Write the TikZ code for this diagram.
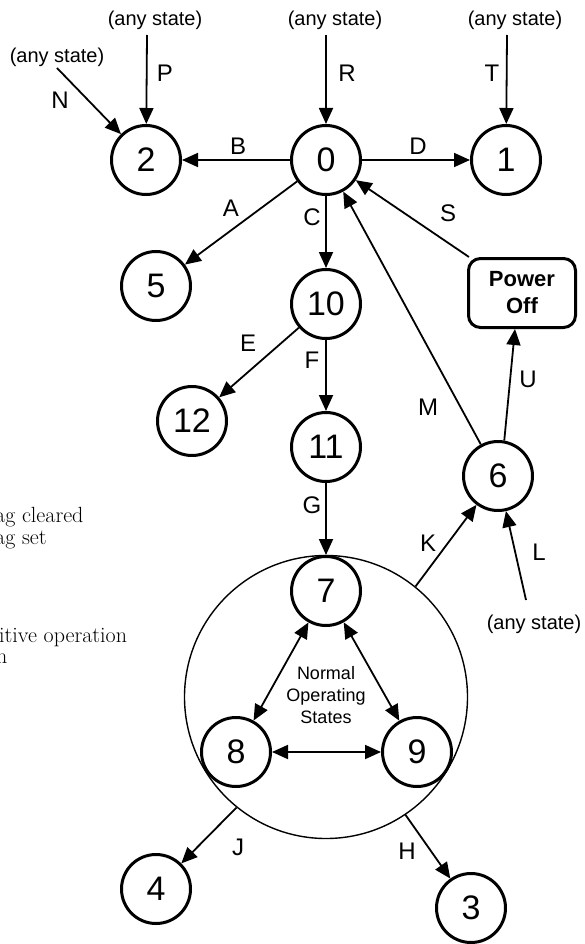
\documentclass[tikz,border=0pt]{standalone}
\usepackage{fontspec}
\newfontfamily\sansf{Liberation Sans}
\usetikzlibrary{arrows.meta,calc}
\begin{document}
\begin{tikzpicture}[x=1pt,y=-1pt,
  st/.style={circle,draw,line width=3pt,minimum size=69pt,inner sep=0pt,font=\sansf\fontsize{34}{34}\selectfont},
  tip/.tip={Triangle[length=16pt,width=14pt]},
  arr/.style={line width=1.8pt,-tip},
  darr/.style={line width=1.8pt,tip-tip},
  lbl/.style={font=\sansf\fontsize{24}{24}\selectfont,inner sep=0pt},
  any/.style={font=\sansf\fontsize{20}{20}\selectfont,inner sep=0pt},
  frag/.style={font=\fontsize{22}{22}\selectfont,inner sep=0pt,anchor=base west}]
\clip (0,0) rectangle (584,944);
\fill[white] (0,0) rectangle (584,944);

% group circle
\node[circle,draw,line width=1.4pt,minimum size=283pt,inner sep=0pt] (big) at (326,697) {};
\node[font=\sansf\fontsize{18}{22}\selectfont,align=center] (normal) at (326,695) {Normal\\Operating\\States};

% states
\node[st] (n0) at (326,160) {0};
\node[st] (n1) at (506,160) {1};
\node[st] (n2) at (146,160) {2};
\node[st] (n5) at (156,286) {5};
\node[st] (n10) at (326,304) {10};
\node[st] (n12) at (192,421) {12};
\node[st] (n11) at (326,447) {11};
\node[st] (n6) at (498,476) {6};
\node[st] (n7) at (326,591) {7};
\node[st] (n8) at (236,752) {8};
\node[st] (n9) at (417,752) {9};
\node[st] (n4) at (156,889) {4};
\node[st] (n3) at (471,908) {3};
\node[draw,line width=3pt,rounded corners=12pt,minimum width=107pt,minimum height=69pt,inner sep=0pt,
      align=center,font=\sansf\bfseries\fontsize{22}{27}\selectfont] (po) at (522,293) {Power\\Off};

% any-state sources
\node[any] (aP) at (155,20) {(any state)};
\node[any] (aR) at (335,20) {(any state)};
\node[any] (aT) at (515,20) {(any state)};
\node[any] (aN) at (57,57) {(any state)};
\node[any] (aL) at (534,624) {(any state)};
\coordinate (cP) at (147,35);
\coordinate (cR) at (326,35);
\coordinate (cT) at (507,35);
\coordinate (cN) at (57,68);
\coordinate (cL) at (526,600);

% connectors
\draw[arr] (cP) -- (n2);
\draw[arr] (cR) -- (n0);
\draw[arr] (cT) -- (n1);
\draw[arr] (cN) -- (n2);
\draw[arr] (n0) -- (n2);
\draw[arr] (n0) -- (n1);
\draw[arr] (n0) -- (n5);
\draw[arr] (n0) -- (n10);
\draw[arr] (po) -- (n0);
\draw[arr] (n10) -- (n12);
\draw[arr] (n10) -- (n11);
\draw[arr] (n11) -- (n7);
\draw[arr] (n6) -- (n0);
\draw[arr] (n6.80) -- ($(po.south)+(-7,0)$);
\draw[arr] (big.51.5) -- (n6);
\draw[arr] (cL) -- (n6);
\draw[darr] (n7) -- (n8);
\draw[darr] (n7) -- (n9);
\draw[darr] (n8) -- (n9);
\draw[arr] (big.231) -- (n4);
\draw[arr] (big.304) -- (n3);

% labels
\node[lbl] (lP) at (165,73) {P};
\node[lbl] (lN) at (60,100) {N};
\node[lbl] (lB) at (238,146) {B};
\node[lbl] (lR) at (347,73) {R};
\node[lbl] (lT) at (492,73) {T};
\node[lbl] (lD) at (418,146) {D};
\node[lbl] (lA) at (231,208) {A};
\node[lbl] (lC) at (312,217) {C};
\node[lbl] (lS) at (448,213) {S};
\node[lbl] (lE) at (248,343) {E};
\node[lbl] (lF) at (312,360) {F};
\node[lbl] (lM) at (428,407) {M};
\node[lbl] (lU) at (528,379) {U};
\node[lbl] (lG) at (312,505) {G};
\node[lbl] (lK) at (428,543) {K};
\node[lbl] (lL) at (539,552) {L};
\node[lbl] (lJ) at (238,847) {J};
\node[lbl] (lH) at (407,851) {H};

% clipped text fragments at left edge
\node[frag] (f1) at (-5,522) {ag cleared};
\node[frag] (f2) at (-5,544) {ag set};
\node[frag] (f3) at (-1,642) {itive operation};
\node[frag] (f4) at (-4,663) {n};
\end{tikzpicture}
\end{document}
